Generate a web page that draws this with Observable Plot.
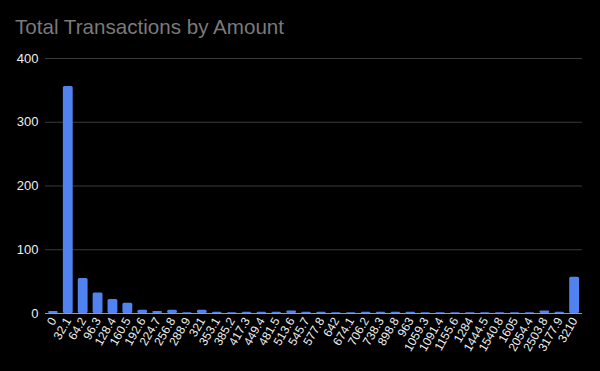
<!DOCTYPE html>
<html>
<head>
<meta charset="utf-8">
<script src="https://cdn.jsdelivr.net/npm/d3@7"></script>
<script src="https://cdn.jsdelivr.net/npm/@observablehq/plot@0.6"></script>
<style>
  html, body { margin: 0; padding: 0; background: #000; }
  #wrap { width: 600px; height: 371px; background: #000; position: relative; overflow: hidden; font-family: "Liberation Sans", Arial, sans-serif; }
  #title { position: absolute; left: 15px; top: 15px; font-size: 20.6px; color: #7a7a7a; }
  #chart { position: absolute; left: 0; top: 45px; }
</style>
</head>
<body>
<div id="wrap">
  <div id="title">Total Transactions by Amount</div>
  <div id="chart"></div>
</div>
<script>
const categories = ["0","32.1","64.2","96.3","128.4","160.5","192.6","224.7","256.8","288.9","321","353.1","385.2","417.3","449.4","481.5","513.6","545.7","577.8","642","674.1","706.2","738.3","898.8","963","1059.3","1091.4","1155.6","1284","1444.5","1540.8","1605","2054.4","2503.8","3177.9","3210"];
const counts = [3,356,55,32,22,16,5,3,5,1,5,2,1,2,2,2,4,2,2,1,1,2,2,2,2,1,1,1,1,1,1,1,1,4,2,57];
const yTicks = [0,100,200,300,400];

const data = categories.map((c, i) => ({amount: c, count: counts[i]}));

const chart = Plot.plot({
  width: 600,
  height: 326,
  marginTop: 13,
  marginBottom: 58,
  marginLeft: 45,
  marginRight: 18,
  style: {background: "#000", color: "#eeeeee", fontSize: "12px", fontFamily: "'Liberation Sans', Arial, sans-serif"},
  x: {domain: categories, label: null, paddingInner: 0.34, paddingOuter: 0.2},
  y: {domain: [0, 400], ticks: yTicks, label: null},
  marks: [
    Plot.gridY(yTicks.filter(d => d > 0), {stroke: "#3a3a3a", strokeOpacity: 1}),
    Plot.barY(data, {x: "amount", y: "count", fill: "#5083ef", rx: 1.5}),
    Plot.ruleY([0], {stroke: "#9a9a9a"}),
    Plot.axisX({tickSize: 0, tickRotate: -60, tickPadding: 5, fontSize: 12, label: null}),
    Plot.axisY({ticks: yTicks, tickSize: 0, tickPadding: 7, fontSize: 13, label: null})
  ]
});
document.getElementById("chart").appendChild(chart);
</script>
</body>
</html>
